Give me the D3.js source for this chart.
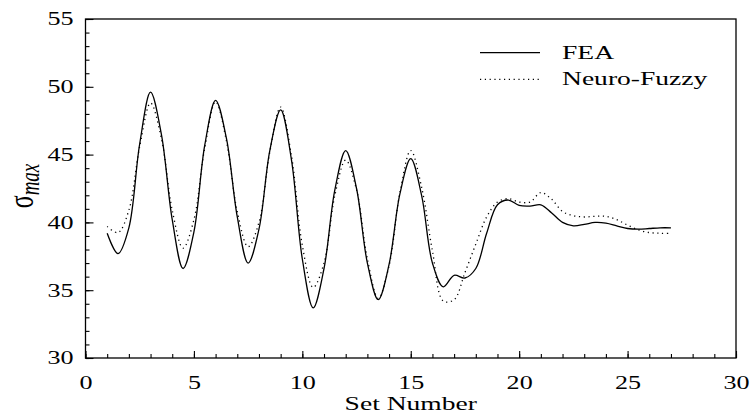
<!DOCTYPE html>
<html lang="en">
<head>
<meta charset="UTF-8">
<title>FEA vs Neuro-Fuzzy</title>
<script src="https://cdn.jsdelivr.net/npm/d3@7"></script>
<style>
  body { margin: 0; background: #fff; }
  text { font-family: "Liberation Serif", "Times New Roman", serif; fill: #000; }
</style>
</head>
<body>
<svg id="svg" width="751" height="417"></svg>
<script>
// set numbers (half steps)
const setNumber = [1, 1.5, 2, 2.5, 3, 3.5, 4, 4.5, 5, 5.5, 6, 6.5, 7, 7.5, 8, 8.5, 9, 9.5, 10, 10.5,
  11, 11.5, 12, 12.5, 13, 13.5, 14, 14.5, 15, 15.5, 16, 16.5, 17, 17.5, 18, 18.5, 19, 19.5, 20, 20.5,
  21, 21.5, 22, 22.5, 23, 23.5, 24, 24.5, 25, 25.5, 26, 26.5, 27]

const fea = [39.2, 37.7, 39.6, 45.8, 49.6, 46.5, 40.2, 36.6, 39.3, 45.7, 49.0, 46.2, 40.4, 37.0, 39.5, 45.3,
  48.3, 44.6, 37.3, 33.7, 36.6, 42.4, 45.3, 42.5, 37.0, 34.3, 36.9, 42.1, 44.7, 42.0, 37.0, 35.25,
  36.1, 35.9, 36.6, 39.2, 41.3, 41.65, 41.25, 41.2, 41.3, 40.7, 40.0, 39.75, 39.85, 40.0, 39.95,
  39.75, 39.55, 39.5, 39.55, 39.6, 39.6]

const neuroFuzzy = [39.7, 39.25, 40.9, 45.6, 48.8, 46.2, 40.9, 38.1, 40.2, 45.5, 48.9, 46.0, 40.8, 38.2, 40.0, 45.2,
  48.5, 44.9, 38.3, 35.2, 37.0, 42.0, 44.6, 42.4, 37.3, 34.4, 36.8, 42.2, 45.3, 42.6, 37.9, 34.2,
  34.3, 36.3, 38.4, 40.4, 41.5, 41.75, 41.5, 41.5, 42.2, 41.7, 40.8, 40.5, 40.4, 40.45, 40.45,
  40.2, 39.8, 39.45, 39.25, 39.2, 39.2]

const xTicks = [0, 5, 10, 15, 20, 25, 30]
const yTicks = [30, 35, 40, 45, 50, 55]
const seriesNames = ["FEA", "Neuro-Fuzzy"]

// the original figure is stretched sideways, text too
const SX = 1.45

const svg = d3.select("#svg")

const x = d3.scaleLinear().domain([0, 30]).range([85.5, 736])
const y = d3.scaleLinear().domain([30, 55]).range([358, 19])

// minor ticks
svg.append("g")
  .attr("transform", `translate(0, ${y(30)})`)
  .call(d3.axisBottom(x).ticks(30).tickSize(-4).tickFormat(""))
svg.append("g")
  .attr("transform", `translate(${x(0)}, 0)`)
  .call(d3.axisLeft(y).ticks(25).tickSize(-4).tickFormat(""))

// major ticks with labels
const xAxis = svg.append("g")
  .attr("transform", `translate(0, ${y(30)})`)
  .call(d3.axisBottom(x).tickValues(xTicks).tickSize(-7).tickFormat(d3.format("d")))
xAxis.selectAll("text")
  .attr("y", null).attr("dy", null)
  .attr("transform", `translate(0, 31) scale(${SX}, 1)`)

const yAxis = svg.append("g")
  .attr("transform", `translate(${x(0)}, 0)`)
  .call(d3.axisLeft(y).tickValues(yTicks).tickSize(-8).tickFormat(d3.format("d")))
yAxis.selectAll("text")
  .attr("x", null).attr("dy", "0.33em")
  .attr("transform", `translate(-12, 0) scale(${SX}, 1)`)

svg.selectAll(".domain").remove()
svg.selectAll(".tick line").attr("stroke", "#000").attr("stroke-width", 1.1)
svg.selectAll(".tick text").style("font-size", "18px").style("font-family", '"Liberation Serif", serif')

// frame
svg.append("rect")
  .attr("x", x(0)).attr("y", y(55))
  .attr("width", x(30) - x(0)).attr("height", y(30) - y(55))
  .attr("fill", "none").attr("stroke", "#000").attr("stroke-width", 1.3)

// curves
const line = d3.line()
  .x((d, i) => x(setNumber[i]))
  .y(d => y(d))
  .curve(d3.curveCatmullRom.alpha(0.5))

svg.append("path")
  .attr("d", line(fea))
  .attr("fill", "none").attr("stroke", "#000").attr("stroke-width", 1.3)

svg.append("path")
  .attr("d", line(neuroFuzzy))
  .attr("fill", "none").attr("stroke", "#000").attr("stroke-width", 1.3)
  .attr("stroke-dasharray", "1.2 3.6")

// legend
const legend = svg.append("g")
const legendRows = [
  { name: seriesNames[0], ly: 52.7, ty: 59, dash: null },
  { name: seriesNames[1], ly: 79.3, ty: 85, dash: "1.2 3.6" }
]
legendRows.forEach(r => {
  legend.append("line")
    .attr("x1", 480).attr("x2", 540).attr("y1", r.ly).attr("y2", r.ly)
    .attr("stroke", "#000").attr("stroke-width", 1.3)
    .attr("stroke-dasharray", r.dash)
  legend.append("text")
    .attr("transform", `translate(562, ${r.ty}) scale(${SX}, 1)`)
    .style("font-size", "19px")
    .text(r.name)
})

// axis titles
svg.append("text")
  .attr("transform", `translate(${(x(0) + x(30)) / 2}, 410) scale(${SX}, 1)`)
  .attr("text-anchor", "middle")
  .style("font-size", "19px")
  .text("Set Number")

const yTitle = svg.append("text")
  .attr("transform", `translate(33, 186) scale(${SX}, 1) rotate(-90)`)
  .attr("text-anchor", "middle")
yTitle.append("tspan").style("font-size", "24px").text("σ")
yTitle.append("tspan").attr("dy", 4).style("font-size", "19px").style("font-style", "italic").text("max")
</script>
</body>
</html>
